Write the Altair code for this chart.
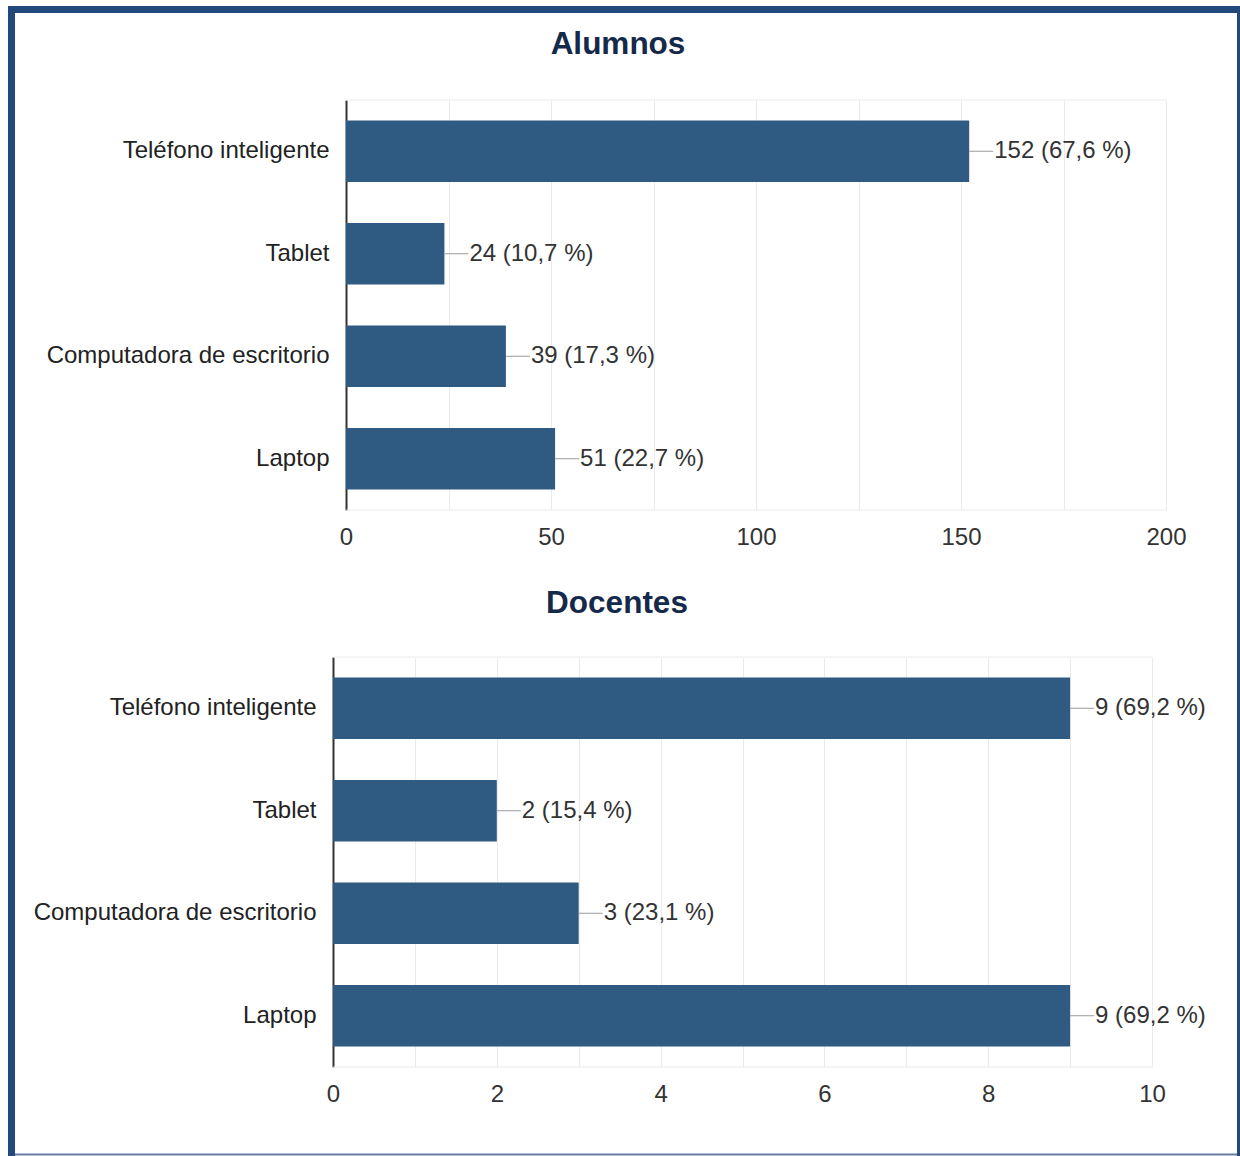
import altair as alt
import pandas as pd

categories = ["Teléfono inteligente", "Tablet", "Computadora de escritorio", "Laptop"]

alumnos_counts = [152, 24, 39, 51]
alumnos_pct = ["67,6", "10,7", "17,3", "22,7"]
alumnos_grid = [0, 25, 50, 75, 100, 125, 150, 175, 200]
alumnos_label_step = 50

docentes_counts = [9, 2, 3, 9]
docentes_pct = ["69,2", "15,4", "23,1", "69,2"]
docentes_grid = [0, 1, 2, 3, 4, 5, 6, 7, 8, 9, 10]
docentes_label_step = 2

titles = ["Alumnos", "Docentes"]

FONT = "Liberation Sans, Arial, sans-serif"
BAR = "#2f5a82"
BORDER = "#22497c"
TITLE_COLOR = "#15294a"
GRID = "#ebebeb"
FS = 24


def panel(counts, pcts, grid, step, title, width, x_range, y_offset, title_x, title_y, extra=None):
    df = pd.DataFrame({
        "cat": categories,
        "v": counts,
        "label": [f"{c} ({p} %)" for c, p in zip(counts, pcts)],
    })
    xmax = grid[-1]
    if x_range is not None:
        xscale = alt.Scale(domain=[0, xmax], nice=False, range=x_range)
    else:
        xscale = alt.Scale(domain=[0, xmax], nice=False)
    xaxis = alt.Axis(
        values=grid, format="d",
        labelExpr=f"datum.value % {step} == 0 ? datum.label : ''",
        grid=True, gridColor=GRID, gridWidth=1,
        domain=False, ticks=False, tickSize=0,
        labelPadding=15, labelFontSize=FS, labelColor="#333",
        labelFont=FONT, labelFlush=False, labelOverlap=False, title=None,
    )
    yaxis = alt.Axis(
        title=None, ticks=False, tickSize=0, labelPadding=17,
        labelFontSize=FS, labelColor="#222", labelFont=FONT, labelLimit=600,
        domainColor="#333", domainWidth=2, offset=y_offset, grid=False,
    )
    base = alt.Chart(df).encode(
        y=alt.Y("cat:N", sort=categories,
                scale=alt.Scale(paddingInner=0.4, paddingOuter=0.2), axis=yaxis),
        x=alt.X("v:Q", scale=xscale, axis=xaxis),
    )
    bars = base.mark_bar(color=BAR)
    conn = base.mark_rule(color="#9a9a9a", strokeWidth=1, x2Offset=24).encode(x2="v:Q")
    text = base.mark_text(align="left", baseline="middle", dx=25, fontSize=FS,
                          font=FONT, color="#333").encode(text="label:N")

    one = pd.DataFrame({"t": [title]})
    frame_top = alt.Chart(one).mark_rule(color=GRID, strokeWidth=1).encode(
        x=alt.datum(0), x2=alt.datum(xmax), y=alt.value(0))
    frame_bot = alt.Chart(one).mark_rule(color=GRID, strokeWidth=1).encode(
        x=alt.datum(0), x2=alt.datum(xmax), y=alt.value(410))
    ttl = alt.Chart(one).mark_text(align="center", baseline="alphabetic", fontSize=31.5,
                                   fontWeight="bold", font=FONT, color=TITLE_COLOR).encode(
        text="t:N", x=alt.value(title_x), y=alt.value(title_y))
    layers = []
    if extra:
        layers.extend(extra)
    layers.extend([frame_top, frame_bot, bars, conn, text, ttl])
    return alt.layer(*layers).properties(width=width, height=410)


def rect(x1, x2, y1, y2, color, opacity=1.0):
    return alt.Chart(pd.DataFrame({"a": [0]})).mark_rect(color=color, opacity=opacity).encode(
        x=alt.value(x1), x2=alt.value(x2), y=alt.value(y1), y2=alt.value(y2))


# decorative outer frame (relative to the top plot origin at page (346, 100))
border = [
    rect(-338, 894, -94, -87, BORDER),
    rect(-338, -331, -94, 1056, BORDER),
    rect(891, 894, -94, 1056, BORDER),
    rect(-338, 894, 1053.5, 1055.5, BORDER, 0.7),
]

top = panel(alumnos_counts, alumnos_pct, alumnos_grid, alumnos_label_step, titles[0],
            820, None, 0, 272, -46.5, extra=border)
bottom = panel(docentes_counts, docentes_pct, docentes_grid, docentes_label_step, titles[1],
               806, [-13, 806], 13, 271, -43.7)

chart = alt.vconcat(top, bottom, spacing=147, bounds="flush").properties(
    padding={"left": 8, "top": 6, "right": 0, "bottom": 0},
    background="white",
).configure_view(strokeWidth=0)

chart.save("out.html", embed_options={"renderer": "svg", "actions": False})
